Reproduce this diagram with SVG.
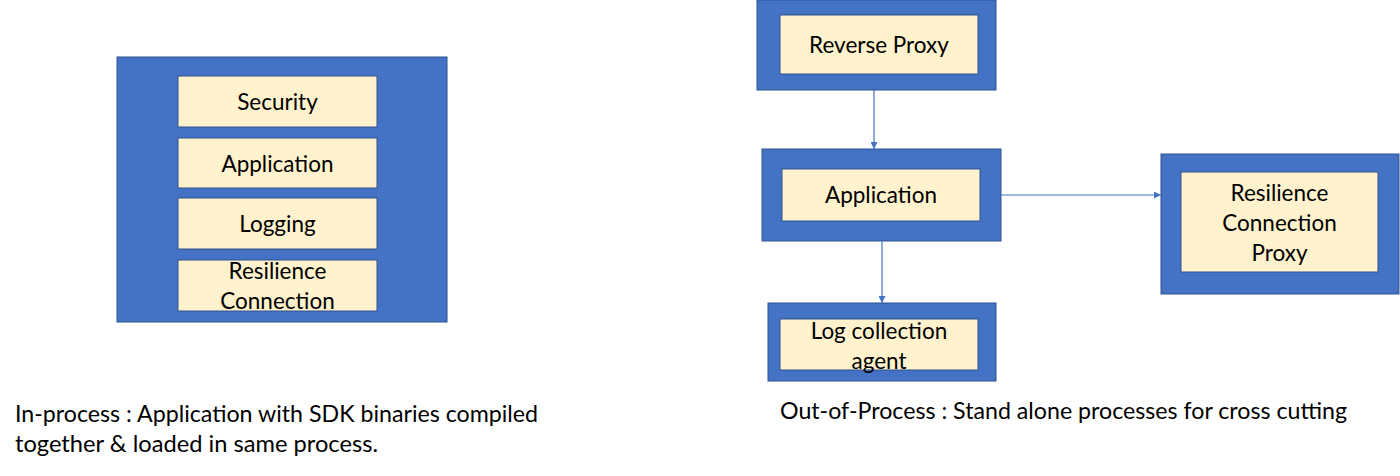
<svg xmlns="http://www.w3.org/2000/svg" width="1400" height="476" viewBox="0 0 1400 476">
<style>
.outer{fill:#4472C4;stroke:#2F528F;stroke-width:1}
.inner{fill:#FFF2CC;stroke:#2F528F;stroke-width:1}
text{font-family:Lato,"Open Sans",sans-serif;fill:#000;}
.lbl{font-size:22.5px;text-anchor:middle}
.cap{font-size:22.5px}
.conn{stroke:#4472C4;stroke-width:1.2;fill:none;marker-end:url(#ah)}
</style>
<defs>
<marker id="ah" viewBox="0 0 10 10" refX="10" refY="5" markerWidth="7" markerHeight="7" markerUnits="userSpaceOnUse" orient="auto">
<path d="M0,0 L10,5 L0,10 z" fill="#4472C4"/>
</marker>
</defs>
<rect width="1400" height="476" fill="#fff"/>
<g id="inprocess">
<rect class="outer" x="117" y="57" width="330" height="265"/>
<g id="security"><rect class="inner" x="178" y="76" width="199" height="51"/><text class="lbl" x="277.5" y="110">Security</text></g>
<g id="application1"><rect class="inner" x="178" y="138" width="199" height="50"/><text class="lbl" x="277.5" y="172">Application</text></g>
<g id="logging"><rect class="inner" x="178" y="198" width="199" height="51"/><text class="lbl" x="277.5" y="232">Logging</text></g>
<g id="resilience1"><rect class="inner" x="178" y="260" width="199" height="51"/><text class="lbl" x="277.5" y="279">Resilience</text><text class="lbl" x="277.5" y="309">Connection</text></g>
</g>
<g id="reverse-proxy">
<rect class="outer" x="757" y="0" width="239" height="90"/>
<rect class="inner" x="780" y="15" width="198" height="59"/>
<text class="lbl" x="879" y="53">Reverse Proxy</text>
</g>
<g id="application2">
<rect class="outer" x="762" y="149" width="239" height="92"/>
<rect class="inner" x="782" y="169" width="198" height="52"/>
<text class="lbl" x="881" y="203">Application</text>
</g>
<g id="log-agent">
<rect class="outer" x="768" y="303" width="228" height="78"/>
<rect class="inner" x="780" y="319" width="198" height="51"/>
<text class="lbl" x="879" y="339">Log collection</text>
<text class="lbl" x="879" y="369">agent</text>
</g>
<g id="resilience-proxy">
<rect class="outer" x="1161" y="154" width="238" height="140"/>
<rect class="inner" x="1181" y="172" width="197" height="100"/>
<text class="lbl" x="1279.5" y="201">Resilience</text>
<text class="lbl" x="1279.5" y="231">Connection</text>
<text class="lbl" x="1279.5" y="261">Proxy</text>
</g>
<g id="connectors">
<line class="conn" x1="874" y1="90" x2="874" y2="149"/>
<line class="conn" x1="882" y1="241" x2="882" y2="303"/>
<line class="conn" x1="1001" y1="195" x2="1161" y2="195"/>
</g>
<g id="captions">
<text class="cap" x="15" y="422" textLength="523" lengthAdjust="spacingAndGlyphs">In-process : Application with SDK binaries compiled</text>
<text class="cap" x="15" y="452" textLength="363" lengthAdjust="spacingAndGlyphs">together &amp; loaded in same process.</text>
<text class="cap" x="780" y="419" textLength="567" lengthAdjust="spacingAndGlyphs">Out-of-Process : Stand alone processes for cross cutting</text>
</g>
</svg>
